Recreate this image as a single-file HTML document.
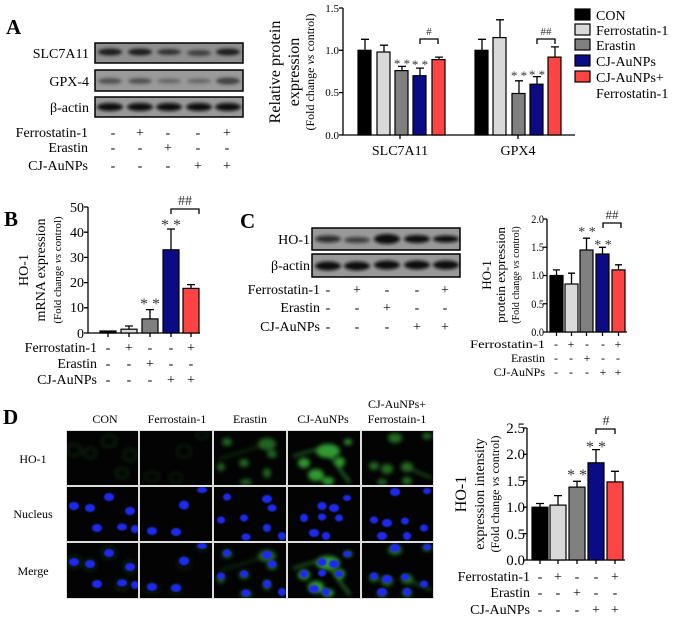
<!DOCTYPE html>
<html><head><meta charset="utf-8"><style>
html,body{margin:0;padding:0;background:#fff;}
svg{display:block;}
text{font-family:"Liberation Serif","Times New Roman",serif;}
</style></head><body>
<svg width="675" height="618" viewBox="0 0 675 618" xmlns="http://www.w3.org/2000/svg">
<defs>
<filter id="bl" x="-30%" y="-100%" width="160%" height="300%"><feGaussianBlur stdDeviation="1.6"/></filter>
<filter id="fb" x="-50%" y="-50%" width="200%" height="200%"><feGaussianBlur stdDeviation="2.2"/></filter>
<filter id="nb" x="-50%" y="-50%" width="200%" height="200%"><feGaussianBlur stdDeviation="0.8"/></filter>
<g id="n1" fill="#1f2cf0" filter="url(#nb)"><ellipse cx="7" cy="19" rx="5" ry="4"/><ellipse cx="23" cy="21" rx="5" ry="4"/><ellipse cx="42" cy="10" rx="5" ry="4"/><ellipse cx="63" cy="24" rx="5" ry="4"/><ellipse cx="30" cy="41" rx="5" ry="4"/><ellipse cx="55" cy="40" rx="5" ry="3.5"/><ellipse cx="68" cy="42" rx="4" ry="4"/></g>
<g id="n2" fill="#1f2cf0" filter="url(#nb)"><ellipse cx="44" cy="18" rx="5" ry="4.5"/><ellipse cx="12" cy="44" rx="5" ry="4"/><ellipse cx="36" cy="45" rx="5" ry="4"/><ellipse cx="62" cy="3" rx="5" ry="3"/></g>
<g id="n3" fill="#1f2cf0" filter="url(#nb)"><ellipse cx="13" cy="10" rx="4" ry="3.5"/><ellipse cx="53" cy="12" rx="5" ry="4"/><ellipse cx="58" cy="21" rx="4.5" ry="3.5"/><ellipse cx="30" cy="31" rx="4" ry="3.5"/><ellipse cx="7" cy="33" rx="4" ry="3.5"/><ellipse cx="53" cy="41" rx="4" ry="4"/><ellipse cx="32" cy="50" rx="4.5" ry="3.5"/><ellipse cx="68" cy="49" rx="4" ry="4"/></g>
<g id="n4" fill="#1f2cf0" filter="url(#nb)"><ellipse cx="34" cy="19" rx="4.5" ry="4"/><ellipse cx="46" cy="21" rx="5" ry="4"/><ellipse cx="59" cy="11" rx="4" ry="3"/><ellipse cx="16" cy="31" rx="4" ry="4"/><ellipse cx="34" cy="30" rx="4" ry="3.5"/><ellipse cx="26" cy="46" rx="5" ry="4"/><ellipse cx="38" cy="49" rx="4" ry="4"/><ellipse cx="51" cy="31" rx="4" ry="3.5"/></g>
<g id="n5" fill="#1f2cf0" filter="url(#nb)"><ellipse cx="33" cy="5" rx="5" ry="4"/><ellipse cx="65" cy="4" rx="4" ry="3"/><ellipse cx="12" cy="33" rx="4" ry="3.5"/><ellipse cx="25" cy="36" rx="5" ry="4"/><ellipse cx="43" cy="34" rx="4" ry="3.5"/><ellipse cx="20" cy="49" rx="5" ry="4"/><ellipse cx="45" cy="49" rx="4" ry="4"/><ellipse cx="62" cy="41" rx="4" ry="3.5"/></g>
<g id="g1" fill="none" stroke="#1f5a1f" stroke-width="1.5" opacity="0.6" filter="url(#fb)"><ellipse cx="7" cy="19" rx="7" ry="6"/><ellipse cx="42" cy="10" rx="7" ry="6"/><ellipse cx="63" cy="24" rx="6" ry="6"/><ellipse cx="55" cy="42" rx="6" ry="5"/><ellipse cx="23" cy="22" rx="6" ry="5"/></g>
<g id="g2" fill="none" stroke="#1c4d1c" stroke-width="1.5" opacity="0.5" filter="url(#fb)"><ellipse cx="44" cy="20" rx="7" ry="6"/><ellipse cx="12" cy="46" rx="7" ry="5"/><ellipse cx="36" cy="47" rx="6" ry="5"/><ellipse cx="62" cy="4" rx="6" ry="4"/></g>
<g id="g3" fill="#2e8f2e" filter="url(#fb)" opacity="0.7"><ellipse cx="53" cy="13" rx="9" ry="6"/><ellipse cx="58" cy="23" rx="5" ry="4"/><ellipse cx="30" cy="32" rx="5" ry="4"/><ellipse cx="13" cy="11" rx="5" ry="4"/><ellipse cx="7" cy="36" rx="4" ry="4"/><ellipse cx="53" cy="42" rx="4" ry="5"/><ellipse cx="32" cy="51" rx="6" ry="3"/><path d="M5 28 L50 14" stroke="#2e8f2e" stroke-width="1"/></g>
<g id="g4" fill="#39b539" filter="url(#fb)" opacity="0.85"><ellipse cx="40" cy="20" rx="12" ry="7"/><ellipse cx="16" cy="32" rx="6" ry="5"/><ellipse cx="28" cy="44" rx="8" ry="6"/><ellipse cx="40" cy="50" rx="6" ry="4"/><ellipse cx="52" cy="31" rx="5" ry="5"/><ellipse cx="60" cy="11" rx="4" ry="3"/><path d="M40 22 L62 52" stroke="#39b539" stroke-width="2"/><path d="M5 25 L30 18" stroke="#39b539" stroke-width="1.5"/></g>
<g id="g5" fill="#2e8f2e" filter="url(#fb)" opacity="0.75"><ellipse cx="33" cy="7" rx="7" ry="5"/><ellipse cx="65" cy="5" rx="5" ry="3"/><ellipse cx="12" cy="35" rx="5" ry="4"/><ellipse cx="25" cy="38" rx="6" ry="5"/><ellipse cx="45" cy="36" rx="6" ry="5"/><ellipse cx="45" cy="50" rx="5" ry="4"/><ellipse cx="20" cy="51" rx="5" ry="3"/><path d="M48 38 L70 47" stroke="#2e8f2e" stroke-width="2"/></g>
</defs>

<!-- ===== PANEL A ===== -->
<text x="6" y="34" font-size="21" font-weight="bold">A</text>
<g font-size="14" text-anchor="end">
<text x="89" y="58">SLC7A11</text><text x="89" y="86">GPX-4</text><text x="89" y="112">β-actin</text>
</g>
<rect x="95" y="43" width="148" height="20" fill="#8f8f8f" stroke="#000" stroke-width="1.5"/>
<rect x="95" y="70" width="148" height="21" fill="#9a9a9a" stroke="#000" stroke-width="1.5"/>
<rect x="95" y="97" width="148" height="20" fill="#999" stroke="#000" stroke-width="1.5"/>
<g filter="url(#bl)">
<g fill="#1e1e1e"><ellipse cx="110" cy="52" rx="12" ry="3.5"/><ellipse cx="140" cy="52" rx="12" ry="3.5"/><ellipse cx="169" cy="52" rx="12" ry="3" opacity="0.85"/><ellipse cx="199" cy="53" rx="12" ry="3" opacity="0.7"/><ellipse cx="228" cy="52" rx="12" ry="3.5"/></g>
<g fill="#333"><ellipse cx="110" cy="81" rx="12" ry="3" opacity="0.7"/><ellipse cx="140" cy="81" rx="12" ry="3" opacity="0.7"/><ellipse cx="169" cy="81" rx="12" ry="2.5" opacity="0.5"/><ellipse cx="199" cy="81" rx="12" ry="2.5" opacity="0.5"/><ellipse cx="228" cy="81" rx="12" ry="3.5" opacity="0.85"/></g>
<g fill="#0a0a0a"><ellipse cx="110" cy="107" rx="13" ry="4"/><ellipse cx="140" cy="107" rx="13" ry="4"/><ellipse cx="169" cy="107" rx="13" ry="4"/><ellipse cx="199" cy="107" rx="13" ry="4"/><ellipse cx="228" cy="107" rx="13" ry="4"/></g>
</g>
<g font-size="14">
<text x="88" y="137" text-anchor="end">Ferrostatin-1</text><text x="88" y="152" text-anchor="end">Erastin</text><text x="88" y="170" text-anchor="end">CJ-AuNPs</text>
<g text-anchor="middle">
<text x="113" y="137">-</text><text x="140" y="137">+</text><text x="168" y="137">-</text><text x="198" y="137">-</text><text x="227" y="137">+</text>
<text x="113" y="152">-</text><text x="140" y="152">-</text><text x="168" y="152">+</text><text x="198" y="152">-</text><text x="227" y="152">-</text>
<text x="113" y="170">-</text><text x="140" y="170">-</text><text x="168" y="170">-</text><text x="198" y="170">+</text><text x="227" y="170">+</text>
</g></g>

<!-- chart A -->
<g font-size="16" text-anchor="middle">
<text transform="translate(280,72) rotate(-90)">Relative protein</text>
<text transform="translate(299,72) rotate(-90)">expression</text>
<text transform="translate(314,72) rotate(-90)" font-size="12">(Fold change <tspan font-style="italic">vs</tspan> control)</text>
</g>
<g font-size="11" text-anchor="end">
<text x="339" y="12">1.5</text><text x="339" y="54">1.0</text><text x="339" y="96">0.5</text><text x="339" y="139">0.0</text>
</g>
<g stroke="#000" stroke-width="1.3" fill="none">
<path d="M343 8 V135 H575"/><path d="M339 8 H343 M339 50.3 H343 M339 92.6 H343 M339 135 H343 M400 135 V139 M518 135 V139"/>
<path d="M365 50.3 V39.3 M361 39.3 H369 M384 52 V45.2 M380 45.2 H388 M402 70.6 V66.4 M398 66.4 H406 M420 75.7 V68.1 M416 68.1 H424 M439 59.6 V57.1 M435 57.1 H443"/>
<path d="M482 50.3 V39.3 M478 39.3 H486 M500 37.6 V19.8 M496 19.8 H504 M519 93.5 V80.8 M515 80.8 H523 M537 84.2 V76.6 M533 76.6 H541 M555 57.1 V46.9 M551 46.9 H559"/>
<path d="M420 44 V39 H438 V44 M537 44 V39 H555 V44"/>
</g>
<g stroke="#000" stroke-width="1.2">
<rect x="358" y="50.3" width="13" height="84.7" fill="#000"/><rect x="377" y="52" width="13" height="83" fill="#d9d9d9"/><rect x="395" y="70.6" width="13" height="64.4" fill="#808080"/><rect x="413" y="75.7" width="13" height="59.3" fill="#0b0b85"/><rect x="432" y="59.6" width="13" height="75.4" fill="#f44"/>
<rect x="475" y="50.3" width="13" height="84.7" fill="#000"/><rect x="493" y="37.6" width="13" height="97.4" fill="#d9d9d9"/><rect x="512" y="93.5" width="13" height="41.5" fill="#808080"/><rect x="530" y="84.2" width="13" height="50.8" fill="#0b0b85"/><rect x="548" y="57.1" width="13" height="77.9" fill="#f44"/>
</g>
<g font-size="13" text-anchor="middle" fill="#333">
<text x="402" y="68">* *</text><text x="420" y="69">* *</text><text x="519" y="80">* *</text><text x="537" y="79">* *</text>
<text x="429" y="35" font-size="11">#</text><text x="546" y="35" font-size="11">##</text>
</g>
<g font-size="14" text-anchor="middle"><text x="400" y="155">SLC7A11</text><text x="518" y="155">GPX4</text></g>
<g stroke="#000" stroke-width="1.2">
<rect x="575" y="9" width="15" height="11" fill="#000"/><rect x="575" y="24" width="15" height="11" fill="#d9d9d9"/><rect x="575" y="39" width="15" height="11" fill="#808080"/><rect x="575" y="55" width="15" height="11" fill="#0b0b85"/><rect x="575" y="71" width="15" height="11" fill="#f44"/>
</g>
<g font-size="14"><text x="596" y="20">CON</text><text x="596" y="35">Ferrostatin-1</text><text x="596" y="50">Erastin</text><text x="596" y="66">CJ-AuNPs</text><text x="596" y="82">CJ-AuNPs+</text><text x="596" y="98">Ferrostatin-1</text></g>

<!-- ===== PANEL B ===== -->
<text x="4" y="226" font-size="21" font-weight="bold">B</text>
<g text-anchor="middle">
<text transform="translate(28,270) rotate(-90)" font-size="14">HO-1</text>
<text transform="translate(45,270) rotate(-90)" font-size="14">mRNA expression</text>
<text transform="translate(61,270) rotate(-90)" font-size="11">(Fold change <tspan font-style="italic">vs</tspan> control)</text>
</g>
<g font-size="14" text-anchor="end">
<text x="84" y="212">50</text><text x="84" y="237">40</text><text x="84" y="262">30</text><text x="84" y="287">20</text><text x="84" y="312">10</text><text x="84" y="338">0</text>
</g>
<g stroke="#000" stroke-width="1.3" fill="none">
<path d="M88 207 V333 H200"/><path d="M84 207 H88 M84 232.2 H88 M84 257.4 H88 M84 282.6 H88 M84 307.8 H88 M84 333 H88 M108 333 V337 M129 333 V337 M150 333 V337 M171 333 V337 M191 333 V337"/>
<path d="M129 329 V326 M125 326 H133 M150 318.9 V309.6 M146 309.6 H154 M171 249.8 V229 M167 229 H175 M191 288.4 V284.6 M187 284.6 H195"/>
<path d="M171 214 V209 H199 V214"/>
</g>
<g stroke="#000" stroke-width="1.2">
<rect x="100" y="331" width="16" height="2" fill="#000"/><rect x="121" y="329.2" width="16" height="3.8" fill="#d9d9d9"/><rect x="142" y="318.9" width="16" height="14.1" fill="#808080"/><rect x="163" y="249.8" width="16" height="83.2" fill="#0b0b85"/><rect x="183" y="288.4" width="16" height="44.6" fill="#f44"/>
</g>
<g font-size="16" text-anchor="middle" fill="#333"><text x="150" y="309">* *</text><text x="171" y="230">* *</text><text x="185" y="205" font-size="14">##</text></g>
<g font-size="14">
<text x="97" y="352" text-anchor="end">Ferrostatin-1</text><text x="97" y="368" text-anchor="end">Erastin</text><text x="97" y="384" text-anchor="end">CJ-AuNPs</text>
<g text-anchor="middle">
<text x="108" y="352">-</text><text x="129" y="352">+</text><text x="150" y="352">-</text><text x="171" y="352">-</text><text x="191" y="352">+</text>
<text x="108" y="368">-</text><text x="129" y="368">-</text><text x="150" y="368">+</text><text x="171" y="368">-</text><text x="191" y="368">-</text>
<text x="108" y="384">-</text><text x="129" y="384">-</text><text x="150" y="384">-</text><text x="171" y="384">+</text><text x="191" y="384">+</text>
</g></g>

<!-- ===== PANEL C ===== -->
<text x="240" y="228" font-size="21" font-weight="bold">C</text>
<g font-size="14" text-anchor="end"><text x="310" y="244">HO-1</text><text x="310" y="270">β-actin</text></g>
<rect x="312" y="228" width="148" height="22" fill="#999" stroke="#000" stroke-width="1.5"/>
<rect x="312" y="254" width="148" height="23" fill="#999" stroke="#000" stroke-width="1.5"/>
<g filter="url(#bl)" fill="#111">
<ellipse cx="328" cy="239" rx="13" ry="3.5" opacity="0.8"/><ellipse cx="357" cy="240" rx="13" ry="3" opacity="0.7"/><ellipse cx="387" cy="239" rx="13" ry="5"/><ellipse cx="417" cy="239" rx="13" ry="4"/><ellipse cx="446" cy="239" rx="13" ry="3.5"/>
<ellipse cx="328" cy="266" rx="13" ry="4.5"/><ellipse cx="357" cy="266" rx="13" ry="4.5"/><ellipse cx="387" cy="265" rx="13" ry="4.5"/><ellipse cx="417" cy="265" rx="13" ry="4.5"/><ellipse cx="446" cy="265" rx="13" ry="4.5"/>
</g>
<g font-size="14">
<text x="320" y="294" text-anchor="end">Ferrostatin-1</text><text x="320" y="312" text-anchor="end">Erastin</text><text x="320" y="331" text-anchor="end">CJ-AuNPs</text>
<g text-anchor="middle">
<text x="328" y="294">-</text><text x="357" y="294">+</text><text x="387" y="294">-</text><text x="417" y="294">-</text><text x="445" y="294">+</text>
<text x="328" y="312">-</text><text x="357" y="312">-</text><text x="387" y="312">+</text><text x="417" y="312">-</text><text x="445" y="312">-</text>
<text x="328" y="331">-</text><text x="357" y="331">-</text><text x="387" y="331">-</text><text x="417" y="331">+</text><text x="445" y="331">+</text>
</g></g>
<!-- chart C -->
<g text-anchor="middle">
<text transform="translate(491,275) rotate(-90)" font-size="13">HO-1</text>
<text transform="translate(505,275) rotate(-90)" font-size="13">protein expression</text>
<text transform="translate(519,275) rotate(-90)" font-size="10">(Fold change <tspan font-style="italic">vs</tspan> control)</text>
</g>
<g font-size="12" text-anchor="end" transform="translate(544,0) scale(0.85,1)">
<text x="0" y="223">2.0</text><text x="0" y="251">1.5</text><text x="0" y="279">1.0</text><text x="0" y="308">0.5</text><text x="0" y="336">0.0</text>
</g>
<g stroke="#000" stroke-width="1.3" fill="none">
<path d="M547 219 V332 H627"/><path d="M543 219 H547 M543 247.25 H547 M543 275.5 H547 M543 303.75 H547 M543 332 H547 M556.5 332 V336 M571.5 332 V336 M586.5 332 V336 M602.5 332 V336 M618.5 332 V336"/>
<path d="M556.5 275.5 V269.9 M553 269.9 H560 M571.5 284 V273.2 M568 273.2 H575 M586.5 250 V238.2 M583 238.2 H590 M602.5 254 V247.3 M599 247.3 H606 M618.5 269.9 V264.8 M615 264.8 H622"/>
<path d="M603 228 V223 H621 V228"/>
</g>
<g stroke="#000" stroke-width="1.2">
<rect x="550" y="275.5" width="13" height="56.5" fill="#000"/><rect x="565" y="284" width="13" height="48" fill="#d9d9d9"/><rect x="580" y="250" width="13" height="82" fill="#808080"/><rect x="596" y="254" width="13" height="78" fill="#0b0b85"/><rect x="612" y="269.9" width="13" height="62.1" fill="#f44"/>
</g>
<g font-size="14" text-anchor="middle" fill="#333"><text x="587" y="236">* *</text><text x="603" y="249">* *</text><text x="612" y="219" font-size="13">##</text></g>
<g font-size="12">
<text x="545" y="348" text-anchor="end" textLength="75" lengthAdjust="spacingAndGlyphs">Ferrostatin-1</text><text x="545" y="362" text-anchor="end">Erastin</text><text x="545" y="376" text-anchor="end">CJ-AuNPs</text>
<g text-anchor="middle">
<text x="556" y="348">-</text><text x="571" y="348">+</text><text x="587" y="348">-</text><text x="603" y="348">-</text><text x="618" y="348">+</text>
<text x="556" y="362">-</text><text x="571" y="362">-</text><text x="587" y="362">+</text><text x="603" y="362">-</text><text x="618" y="362">-</text>
<text x="556" y="376">-</text><text x="571" y="376">-</text><text x="587" y="376">-</text><text x="603" y="376">+</text><text x="618" y="376">+</text>
</g></g>

<!-- ===== PANEL D ===== -->
<text x="3" y="424" font-size="21" font-weight="bold">D</text>
<g font-size="12" text-anchor="middle">
<text x="105" y="423">CON</text><text x="177" y="423">Ferrostain-1</text><text x="250" y="423">Erastin</text><text x="323" y="423">CJ-AuNPs</text><text x="397" y="408">CJ-AuNPs+</text><text x="397" y="423">Ferrostain-1</text>
<text x="33" y="463">HO-1</text><text x="33" y="518">Nucleus</text><text x="33" y="575">Merge</text>
</g>
<rect x="66" y="430" width="368" height="169" fill="#ddd"/>
<g fill="#030303">
<rect x="67" y="431" width="71" height="54"/><rect x="140" y="431" width="72" height="54"/><rect x="214" y="431" width="72" height="54"/><rect x="288" y="431" width="72" height="54"/><rect x="362" y="431" width="71" height="54"/>
<rect x="67" y="487" width="71" height="54"/><rect x="140" y="487" width="72" height="54"/><rect x="214" y="487" width="72" height="54"/><rect x="288" y="487" width="72" height="54"/><rect x="362" y="487" width="71" height="54"/>
<rect x="67" y="543" width="71" height="55"/><rect x="140" y="543" width="72" height="55"/><rect x="214" y="543" width="72" height="55"/><rect x="288" y="543" width="72" height="55"/><rect x="362" y="543" width="71" height="55"/>
</g>
<svg x="67" y="431" width="71" height="54"><use href="#g1"/></svg>
<svg x="140" y="431" width="72" height="54"><use href="#g2"/></svg>
<svg x="214" y="431" width="72" height="54"><use href="#g3"/></svg>
<svg x="288" y="431" width="72" height="54"><use href="#g4"/></svg>
<svg x="362" y="431" width="71" height="54"><use href="#g5"/></svg>
<svg x="67" y="487" width="71" height="54"><use href="#n1"/></svg>
<svg x="140" y="487" width="72" height="54"><use href="#n2"/></svg>
<svg x="214" y="487" width="72" height="54"><use href="#n3"/></svg>
<svg x="288" y="487" width="72" height="54"><use href="#n4"/></svg>
<svg x="362" y="487" width="71" height="54"><use href="#n5"/></svg>
<svg x="67" y="543" width="71" height="55"><use href="#g1"/><use href="#n1"/></svg>
<svg x="140" y="543" width="72" height="55"><use href="#g2"/><use href="#n2"/></svg>
<svg x="214" y="543" width="72" height="55"><use href="#g3"/><use href="#n3"/></svg>
<svg x="288" y="543" width="72" height="55"><use href="#g4"/><use href="#n4"/></svg>
<svg x="362" y="543" width="71" height="55"><use href="#g5"/><use href="#n5"/></svg>

<!-- chart D -->
<g text-anchor="middle">
<text transform="translate(466,494) rotate(-90)" font-size="16">HO-1</text>
<text transform="translate(484,494) rotate(-90)" font-size="14">expression intensity</text>
<text transform="translate(499,494) rotate(-90)" font-size="12">(Fold change <tspan font-style="italic">vs</tspan> control)</text>
</g>
<g font-size="15" text-anchor="end">
<text x="525" y="433">2.5</text><text x="525" y="459">2.0</text><text x="525" y="486">1.5</text><text x="525" y="512">1.0</text><text x="525" y="539">0.5</text><text x="525" y="565">0.0</text>
</g>
<g stroke="#000" stroke-width="1.3" fill="none">
<path d="M527 428 V560 H625"/><path d="M523 428 H527 M523 454.4 H527 M523 480.8 H527 M523 507.2 H527 M523 533.6 H527 M523 560 H527 M540 560 V564 M558 560 V564 M577 560 V564 M596 560 V564 M615 560 V564"/>
<path d="M540 507.2 V503.5 M536 503.5 H544 M558 505.1 V495.6 M554 495.6 H562 M577 487.1 V481.3 M573 481.3 H581 M596 462.8 V449.6 M592 449.6 H600 M615 481.9 V471.3 M611 471.3 H619"/>
<path d="M596 434 V429 H615 V434"/>
</g>
<g stroke="#000" stroke-width="1.2">
<rect x="532" y="507.2" width="16" height="52.8" fill="#000"/><rect x="550" y="505.1" width="16" height="54.9" fill="#d9d9d9"/><rect x="569" y="487.1" width="16" height="72.9" fill="#808080"/><rect x="588" y="462.8" width="16" height="97.2" fill="#0b0b85"/><rect x="607" y="481.9" width="16" height="78.1" fill="#f44"/>
</g>
<g font-size="16" text-anchor="middle" fill="#333"><text x="577" y="480">* *</text><text x="596" y="452">* *</text><text x="606" y="425" font-size="14">#</text></g>
<g font-size="14">
<text x="530" y="581" text-anchor="end">Ferrostatin-1</text><text x="530" y="597" text-anchor="end">Erastin</text><text x="530" y="614" text-anchor="end">CJ-AuNPs</text>
<g text-anchor="middle">
<text x="540" y="581">-</text><text x="558" y="581">+</text><text x="577" y="581">-</text><text x="596" y="581">-</text><text x="615" y="581">+</text>
<text x="540" y="597">-</text><text x="558" y="597">-</text><text x="577" y="597">+</text><text x="596" y="597">-</text><text x="615" y="597">-</text>
<text x="540" y="614">-</text><text x="558" y="614">-</text><text x="577" y="614">-</text><text x="596" y="614">+</text><text x="615" y="614">+</text>
</g></g>
</svg>
</body></html>
